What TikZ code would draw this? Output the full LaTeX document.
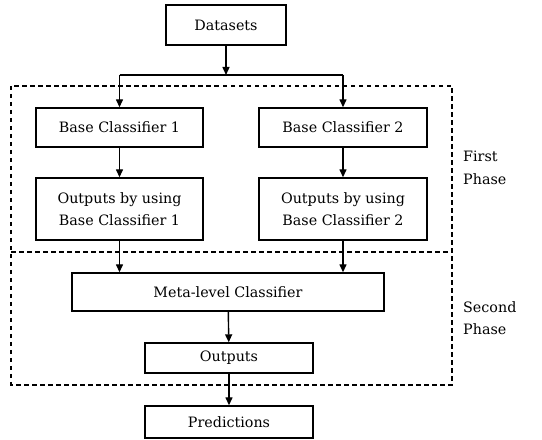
\documentclass[tikz,border=0pt]{standalone}
\usepackage{fontspec}
\setmainfont{DejaVu Serif}
\usetikzlibrary{arrows.meta,calc}
\begin{document}
\begin{tikzpicture}[x=1pt,y=1pt,
  box/.style={draw,line width=1.4pt,align=center,inner sep=0pt,font=\fontsize{14.3}{22.5}\selectfont},
  arr/.style={line width=1.4pt,-{Triangle[length=8pt,width=7pt]}},
  ln/.style={line width=1.4pt},
  phase/.style={anchor=west,align=left,inner sep=0pt,font=\fontsize{14.3}{22.5}\selectfont}]
\useasboundingbox (0,0) rectangle (542,440);
% dashed phase regions
\coordinate (dtl) at (11,354);
\coordinate (dbr) at (452,55);
\coordinate (dml) at (11,188);
\coordinate (dmr) at (452,188);
\draw[line width=1.3pt,dash pattern=on 4.5pt off 3.5pt] (dtl) rectangle (dbr);
\draw[line width=1.3pt,dash pattern=on 4.5pt off 3.5pt] (dml) -- (dmr);
% nodes
\node[box,minimum width=120pt,minimum height=40pt] (ds) at (226,415) {Datasets};
\node[box,minimum width=167pt,minimum height=39pt] (b1) at (119.5,312.5) {Base Classifier 1};
\node[box,minimum width=168pt,minimum height=39pt] (b2) at (343,312.5) {Base Classifier 2};
\node[box,minimum width=167pt,minimum height=62pt] (o1) at (119.5,231) {Outputs by using\\Base Classifier 1};
\node[box,minimum width=168pt,minimum height=62pt] (o2) at (343,231) {Outputs by using\\Base Classifier 2};
\node[box,minimum width=312pt,minimum height=38pt] (meta) at (228,148) {Meta-level Classifier};
\node[box,minimum width=168pt,minimum height=30pt] (out) at (229,82) {Outputs};
\node[box,minimum width=168pt,minimum height=32pt] (pred) at (229,18) {Predictions};
\node[phase] (p1) at (463,272) {First\\Phase};
\node[phase] (p2) at (463,122) {Second\\Phase};
% connectors
\coordinate (split) at (226,365);
\coordinate (sl) at (b1.north |- split);
\coordinate (sr) at (b2.north |- split);
\draw[arr] (ds.south) -- (split);
\draw[ln] (sl) -- (sr);
\draw[arr] (sl) -- (b1.north);
\draw[arr] (sr) -- (b2.north);
\draw[arr] (b1) -- (o1);
\draw[arr] (b2) -- (o2);
\draw[arr] (o1.south) -- (o1.south |- meta.north);
\draw[arr] (o2.south) -- (o2.south |- meta.north);
\draw[arr] (meta) -- (out);
\draw[arr] (out) -- (pred);
\end{tikzpicture}
\end{document}
